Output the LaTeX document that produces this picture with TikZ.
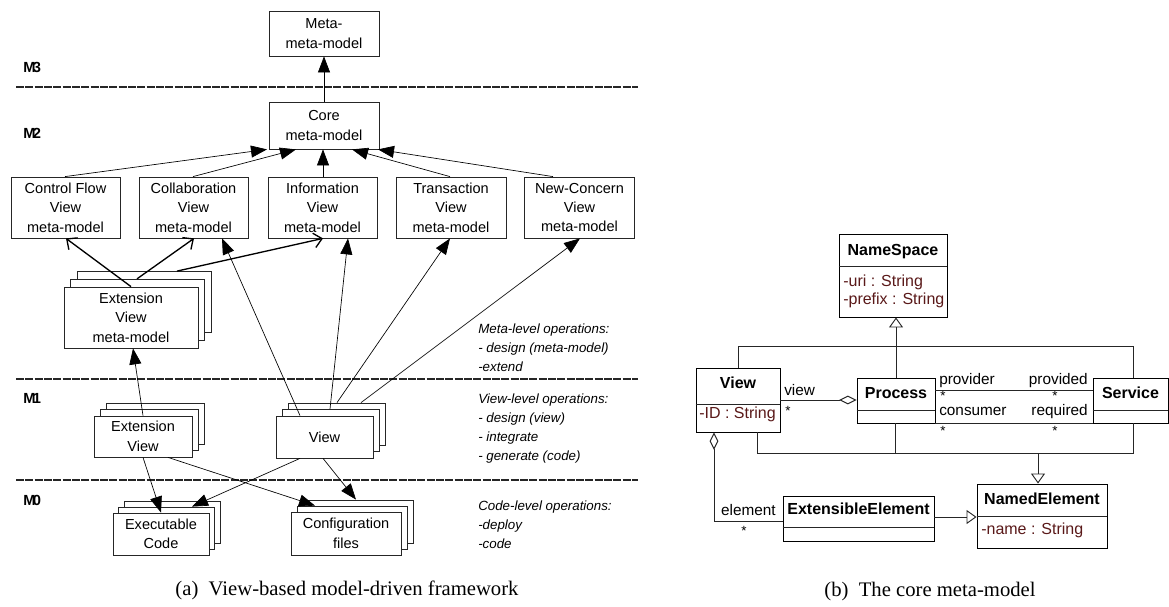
\documentclass[tikz,border=0pt]{standalone}
\usepackage{fontspec}
\setmainfont{Liberation Serif}
\setsansfont{Liberation Sans}
\usetikzlibrary{arrows.meta,calc}
\definecolor{attr}{RGB}{90,25,25}
\newcommand\mystack[8]{%
  \node[mbox,sz={#4}{#5}] (#1c) at ({#2+2*#6},{#3-2*#7}) {};
  \node[mbox,sz={#4}{#5}] (#1b) at ({#2+#6},{#3-#7}) {};
  \node[mbox,sz={#4}{#5}] (#1) at (#2,#3) {#8};}
\begin{document}
\begin{tikzpicture}[x=0.75pt,y=-0.75pt,
  sz/.style 2 args={minimum width=#1*0.75pt, minimum height=#2*0.75pt},
  mbox/.style={draw=black!85, line width=0.6pt, fill=white, inner sep=0pt, align=center,
    font=\sffamily\fontsize{10.9}{14.6}\selectfont},
  farr/.style={-{Triangle[length=12pt,width=9pt]}, line width=0.5pt},
  oarr/.style={-{Straight Barb[length=6pt,width=11pt]}, line width=1pt},
  lvl/.style={font=\sffamily\bfseries\fontsize{11}{13}\selectfont, anchor=west, inner sep=0pt},
  ops/.style={font=\sffamily\itshape\fontsize{10}{14.4}\selectfont, anchor=west, align=left, inner sep=0pt},
  sepline/.style={line width=1.5pt, dash pattern=on 6pt off 1pt, black!85},
  uml/.style={draw, line width=0.7pt, fill=white, inner sep=0pt},
  uname/.style={font=\sffamily\bfseries\fontsize{12}{14}\selectfont, anchor=base, inner sep=0pt},
  uattr/.style={font=\sffamily\fontsize{12}{14}\selectfont, text=attr, anchor=base west, inner sep=0pt},
  ulab/.style={font=\sffamily\fontsize{11.5}{13}\selectfont, inner sep=0pt},
  ustar/.style={font=\sffamily\fontsize{10}{12}\selectfont, inner sep=0pt, anchor=center},
  uline/.style={line width=0.7pt, black!85},
  gen/.style={uline, -{Triangle[open,length=7.5pt,width=10.5pt]}},
  agg/.style={uline, {Diamond[open,length=13pt,width=6.5pt]}-},
  capt/.style={font=\rmfamily\fontsize{15.5}{18}\selectfont}
]
\useasboundingbox (0,0) rectangle (1169,606);

% ---------------- (a) ----------------
\draw[sepline] (16,87) -- (638,87);
\draw[sepline] (16,379) -- (638,379);
\draw[sepline] (16,480) -- (638,480);

\node[lvl] (m3) at (23,67) {M\kern-2pt3};
\node[lvl] (m2) at (23,133) {M\kern-2pt2};
\node[lvl] (m1) at (23,398) {M\kern-2pt1};
\node[lvl] (m0) at (23,500) {M\kern-2pt0};

\node[mbox,sz={110}{45}] (meta) at (324,33.5) {Meta-\\meta-model};
\node[mbox,sz={110}{47}] (core) at (324,125.5) {Core\\meta-model};

\node[mbox,sz={109}{61}] (cf) at (65.5,207.5) {Control Flow\\View\\meta-model};
\node[mbox,sz={109}{61}] (collab) at (193.5,207.5) {Collaboration\\View\\meta-model};
\node[mbox,sz={109}{61}] (info) at (322.5,207.5) {Information\\View\\meta-model};
\node[mbox,sz={110}{61}] (trans) at (451,207.5) {Transaction\\View\\meta-model};
\node[mbox,sz={110}{61}] (newc) at (579.5,207.5) {New-Concern\\View\\meta-model};

\mystack{extmeta}{131}{317.5}{134}{61}{6.5}{7.75}{Extension\\View\\meta-model}
\mystack{extview}{143}{436.5}{98}{41}{6}{6.5}{Extension\\View}
\mystack{view}{324.5}{437}{97}{42}{6}{6.5}{View}
\mystack{exec}{161}{534}{96}{42}{5.5}{6}{Executable\\Code}
\mystack{conf}{346}{533.5}{110}{43}{6}{6}{Configuration\\files}

\node[ops] (opsmeta) at (478,347.5) {Meta-level operations:\\- design (meta-model)\\-extend};
\node[ops] (opsview) at (478,428.5) {View-level operations:\\- design (view)\\- integrate\\- generate (code)};
\node[ops] (opscode) at (478,524.5) {Code-level operations:\\-deploy\\-code};

% arrows to meta and core
\draw[farr] (core.north) -- (meta.south);
\draw[farr] (65,0 |- cf.north) -- (267,0 |- core.south);
\draw[farr] (193,0 |- collab.north) -- (296,0 |- core.south);
\draw[farr] (323,0 |- info.north) -- (323,0 |- core.south);
\draw[farr] (450,0 |- trans.north) -- (352,0 |- core.south);
\draw[farr] (553,0 |- newc.north) -- (378,0 |- core.south);

% extension meta-model arrows (open)
\draw[oarr] (131,0 |- extmeta.north) -- (66,0 |- cf.south);
\draw[oarr] (137,0 |- extmetab.north) -- (194,0 |- collab.south);
\draw[oarr] (177,0 |- extmetac.north) -- (323,0 |- info.south);

% view arrows
\draw[farr] (300,0 |- view.north) -- (222,0 |- collab.south);
\draw[farr] (330,0 |- viewb.north) -- (348,0 |- info.south);
\draw[farr] (337,0 |- viewc.north) -- (450,0 |- trans.south);
\draw[farr] (361,0 |- viewc.north) -- (580,0 |- newc.south);
\draw[farr] (143,0 |- extview.north) -- (133,0 |- extmeta.south);

% M1 -> M0
\draw[farr] (143,0 |- extview.south) -- (161,0 |- exec.north);
\draw[farr] (300,0 |- view.south) -- (192,0 |- execb.north);
\draw[farr] (168,0 |- extview.south) -- (315,0 |- confb.north);
\draw[farr] (323,0 |- view.south) -- (356,0 |- confc.north);

\node[capt] (capa) at (347,590) {(a)\enspace View-based model-driven framework};

% ---------------- (b) ----------------
\node[uml,sz={108}{83}] (ns) at (893,275.5) {};
\draw[uline] (ns.west |- 0,266) -- (ns.east |- 0,266);
\node[uname] (nsn) at (893,255) {NameSpace};
\node[uattr] (nsa1) at (843,286) {-uri : String};
\node[uattr] (nsa2) at (843,304) {-prefix : String};

\node[uml,sz={84}{64}] (vw) at (738,400) {};
\draw[uline] (vw.west |- 0,404) -- (vw.east |- 0,404);
\node[uname] (vwn) at (738,388) {View};
\node[uattr] (vwa) at (699,418) {-ID : String};

\node[uml,sz={78}{45}] (pr) at (896,400.5) {};
\draw[uline] (pr.west |- 0,410) -- (pr.east |- 0,410);
\node[uname] (prn) at (896,398) {Process};

\node[uml,sz={75}{45}] (sv) at (1130.5,400.5) {};
\draw[uline] (sv.west |- 0,410) -- (sv.east |- 0,410);
\node[uname] (svn) at (1130.5,398) {Service};

\node[uml,sz={130}{64}] (ne) at (1042,516) {};
\draw[uline] (ne.west |- 0,516) -- (ne.east |- 0,516);
\node[uname] (nen) at (1042,504) {NamedElement};
\node[uattr] (nea) at (981,534) {-name : String};

\node[uml,sz={151}{45}] (ee) at (858.5,518.5) {};
\draw[uline] (ee.west |- 0,527) -- (ee.east |- 0,527);
\node[uname] (een) at (858.5,514) {ExtensibleElement};

% generalization to NameSpace
\draw[gen] (pr.north) -- (pr.north |- ns.south);
\draw[uline] (vw.north) |- (1133,346) -- (1133,0 |- sv.north);

% generalization to NamedElement
\draw[uline] (757,0 |- vw.south) |- (1133,453) -- (1133,0 |- sv.south);
\draw[uline] (895,0 |- pr.south) -- (895,453);
\draw[gen] (1038,453) -- (1038,0 |- ne.north);
\draw[gen] (ee.east |- 0,517) -- (ne.west |- 0,517);

% associations
\draw[agg] (pr.west |- 0,400) -- (vw.east |- 0,400);
\draw[uline] (pr.east |- 0,390) -- (sv.west |- 0,390);
\draw[uline] (pr.south east) -- (sv.south west);
\draw[agg] (714,0 |- vw.south) |- (ee.west |- 0,521);

\node[ulab,anchor=base west] (lview) at (784,395) {view};
\node[ustar] (lvs) at (788,411) {*};
\node[ulab,anchor=base west] (lprov) at (939,384) {provider};
\node[ulab,anchor=base east] (lprovd) at (1088,384) {provided};
\node[ustar] (s1) at (943,396) {*};
\node[ustar] (s2) at (1055,396) {*};
\node[ulab,anchor=base west] (lcons) at (939,415) {consumer};
\node[ulab,anchor=base east] (lreq) at (1088,415) {required};
\node[ustar] (s3) at (943,431) {*};
\node[ustar] (s4) at (1055,431) {*};
\node[ulab,anchor=base east] (lel) at (776,515) {element};
\node[ustar] (s5) at (744,531) {*};

\node[capt] (capb) at (930,592) {(b)\enspace The core meta-model};
\end{tikzpicture}
\end{document}
